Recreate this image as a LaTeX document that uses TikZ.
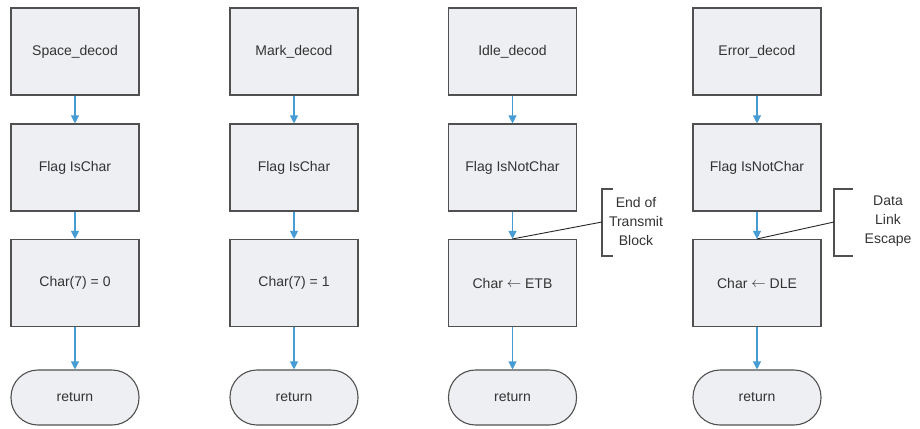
\documentclass[tikz,border=0pt]{standalone}
\usepackage{fontspec}
\setmainfont{Liberation Sans}
\usetikzlibrary{arrows.meta}
\definecolor{boxfill}{RGB}{238,239,242}
\definecolor{boxline}{RGB}{80,80,80}
\definecolor{flow}{RGB}{72,156,212}
\newcommand{\assignarrow}{\raisebox{0.5pt}{$\leftarrow$}}
\begin{document}
\begin{tikzpicture}[x=1pt,y=-1pt,
  txt/.style={font=\fontsize{14}{19}\selectfont, text=black!80},
  stepbox/.style={txt, draw=boxline, line width=1.1pt, fill=boxfill,
    minimum width=128pt, minimum height=87pt, inner sep=0pt},
  termbox/.style={txt, draw=boxline, line width=1.1pt, fill=boxfill,
    rounded corners=27pt, minimum width=128pt, minimum height=55pt, inner sep=0pt},
  flowarrow/.style={draw=flow, line width=1.1pt, -{Triangle[length=8pt,width=8pt]}},
  note/.style={txt, align=center, inner sep=0pt},
  bracket/.style={draw=boxline, line width=1.1pt},
  leader/.style={draw=black!85, line width=0.9pt}]
\useasboundingbox (0,0) rectangle (920,428);
\fill[white] (0,0) rectangle (920,428);

% column 1
\node[stepbox] (a1) at (75,51.5) {Space\_decod};
\node[stepbox] (a2) at (75,167.5) {Flag IsChar};
\node[stepbox] (a3) at (75,283) {Char(7) = 0};
\node[termbox] (a4) at (75,397.5) {return};
% column 2
\node[stepbox] (b1) at (294,51.5) {Mark\_decod};
\node[stepbox] (b2) at (294,167.5) {Flag IsChar};
\node[stepbox] (b3) at (294,283) {Char(7) = 1};
\node[termbox] (b4) at (294,397.5) {return};
% column 3
\node[stepbox] (c1) at (512.5,51.5) {Idle\_decod};
\node[stepbox] (c2) at (512.5,167.5) {Flag IsNotChar};
\node[stepbox] (c3) at (512.5,283) {Char \assignarrow{} ETB};
\node[termbox] (c4) at (512.5,397.5) {return};
% column 4
\node[stepbox] (d1) at (757,51.5) {Error\_decod};
\node[stepbox] (d2) at (757,167.5) {Flag IsNotChar};
\node[stepbox] (d3) at (757,283) {Char \assignarrow{} DLE};
\node[termbox] (d4) at (757,397.5) {return};

\foreach \c in {a,b,c,d}{
  \draw[flowarrow] (\c1) -- (\c2);
  \draw[flowarrow] (\c2) -- (\c3);
  \draw[flowarrow] (\c3) -- (\c4);
}

% annotations
\node[note] (n3) at (636,221) {End of\\Transmit\\Block};
\coordinate (k3) at (602,222);
\draw[bracket] (613,189) -- (602,189) -- (602,256) -- (613,256);
\draw[leader] (c3.north) -- (k3);

\node[note] (n4) at (888,221) {Data\\Link\\Escape};
\coordinate (k4) at (834,222);
\draw[bracket] (853,189) -- (834,189) -- (834,256) -- (853,256);
\draw[leader] (d3.north) -- (k4);
\end{tikzpicture}
\end{document}
